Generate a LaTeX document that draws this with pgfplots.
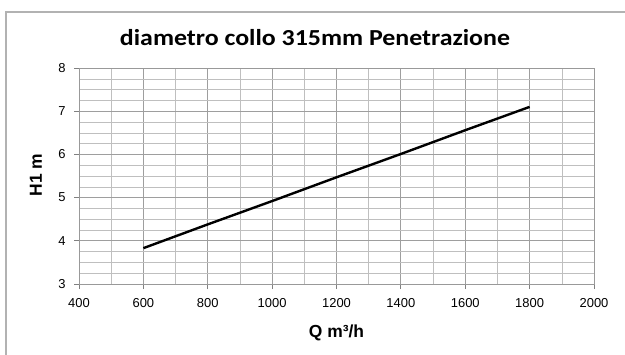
\documentclass[border=0pt]{standalone}
\usepackage{pgfplots}
\pgfplotsset{compat=1.18}
\usepackage{fontspec}
\setmainfont{Liberation Sans}
\newfontfamily\titlefont{Carlito}
\begin{document}
\begin{tikzpicture}[x=1bp,y=1bp]
\path[use as bounding box] (0,0) rectangle (625,354);
\draw[black!30, line width=1.2bp] (6,-5) -- (6,342) -- (630,342);
\node[font=\titlefont\bfseries\fontsize{23}{26}\selectfont, anchor=base, xscale=1.13] at (315,309) {diametro collo 315mm Penetrazione};
\begin{axis}[at={(79bp,70bp)}, anchor=south west, scale only axis,
  width=515bp, height=216bp,
  xmin=400, xmax=2000, ymin=3, ymax=8,
  xtick={400,600,...,2000}, ytick={3,4,5,6,7,8},
  minor x tick num=1, minor y tick num=3,
  xtick pos=bottom, ytick pos=left,
  grid=both,
  major grid style={color=black!38, line width=0.8bp},
  minor grid style={color=black!25, line width=0.6bp},
  axis line style={black!40, line width=0.8bp},
  tick align=outside, major tick length=5bp, minor tick length=0pt,
  tick style={black!50, line width=0.8bp},
  /pgf/number format/assume math mode=true,
  /pgf/number format/1000 sep={},
  ticklabel style={font=\fontsize{13}{15}\selectfont},
  xticklabel style={yshift=-6bp},
  yticklabel style={xshift=-5bp},
  xlabel={\textbf{Q m³/h}}, ylabel={\textbf{H1 m}},
  label style={font=\fontsize{17.5}{20}\selectfont},
  xlabel style={at={(axis description cs:0.5,-0.227)}, anchor=center},
  ylabel style={at={(axis description cs:-0.0835,0.505)}, anchor=center},
]
\addplot[black, line width=2.4bp] table {
x y
600 3.83
800 4.38
1000 4.92
1200 5.47
1400 6.01
1600 6.56
1800 7.10
};
\end{axis}
\end{tikzpicture}
\end{document}
